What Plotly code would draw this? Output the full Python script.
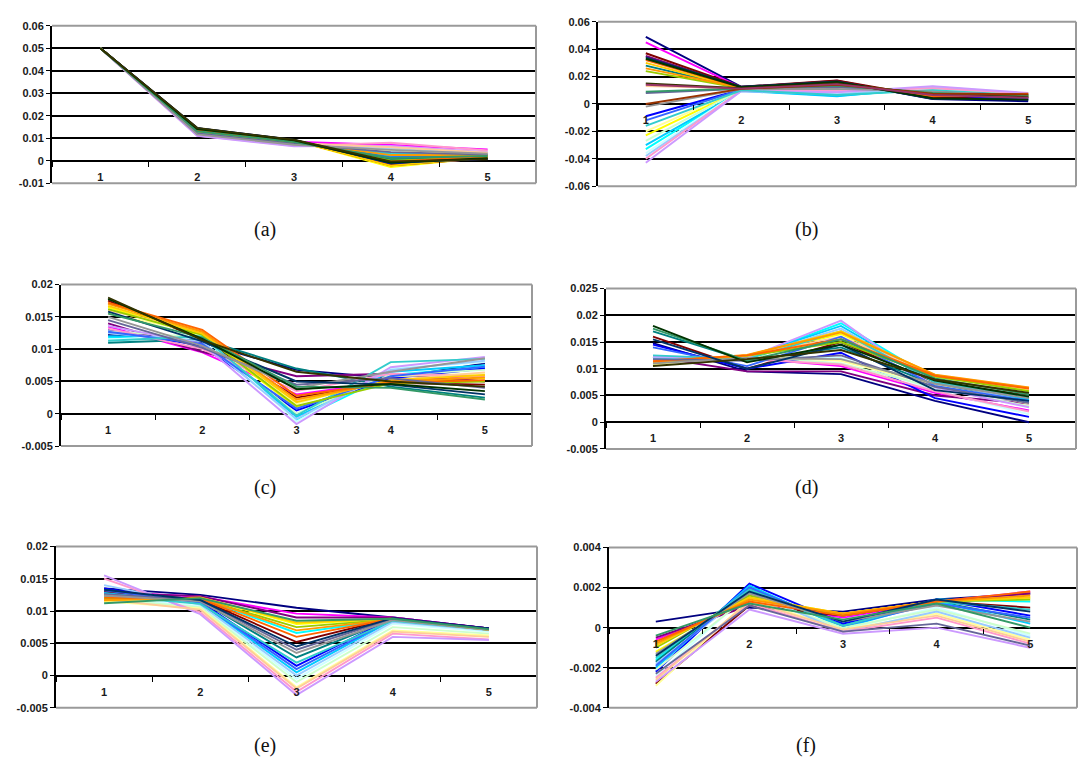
import plotly.graph_objects as go

W, H = 1078, 769

categories = ["1", "2", "3", "4", "5"]

excel_colors = [
    "#000080", "#FF00FF", "#FFFF00", "#00FFFF", "#800080", "#800000", "#008080", "#0000FF",
    "#00CCFF", "#CCFFFF", "#CCFFCC", "#FFFF99", "#99CCFF", "#FF99CC", "#CC99FF", "#FFCC99",
    "#3366FF", "#33CCCC", "#99CC00", "#FFCC00", "#FF9900", "#FF6600", "#666699", "#969696",
    "#003366", "#339966", "#003300", "#333300", "#993300", "#993366", "#333399", "#333333",
]

a_series = [
    [0.050, 0.0145, 0.0092, -0.0015, 0.0010],
    [0.050, 0.0132, 0.0084, 0.0070, 0.0050],
    [0.050, 0.0140, 0.0090, -0.0028, 0.0015],
    [0.050, 0.0124, 0.0076, 0.0035, 0.0025],
    [0.050, 0.0138, 0.0088, 0.0010, 0.0030],
    [0.050, 0.0142, 0.0091, -0.0020, 0.0012],
    [0.050, 0.0136, 0.0087, 0.0005, 0.0018],
    [0.050, 0.0143, 0.0090, -0.0012, 0.0008],
    [0.050, 0.0128, 0.0080, 0.0020, 0.0022],
    [0.050, 0.0120, 0.0072, 0.0042, 0.0028],
    [0.050, 0.0118, 0.0070, 0.0050, 0.0030],
    [0.050, 0.0122, 0.0074, 0.0046, 0.0032],
    [0.050, 0.0115, 0.0068, 0.0056, 0.0034],
    [0.050, 0.0112, 0.0066, 0.0080, 0.0045],
    [0.050, 0.0110, 0.0064, 0.0066, 0.0038],
    [0.050, 0.0126, 0.0078, 0.0060, 0.0036],
    [0.050, 0.0134, 0.0086, 0.0015, 0.0020],
    [0.050, 0.0127, 0.0079, 0.0030, 0.0026],
    [0.050, 0.0133, 0.0085, 0.0000, 0.0016],
    [0.050, 0.0139, 0.0089, -0.0022, 0.0014],
    [0.050, 0.0130, 0.0082, 0.0025, 0.0024],
    [0.050, 0.0137, 0.0088, -0.0005, 0.0019],
    [0.050, 0.0121, 0.0075, 0.0038, 0.0027],
    [0.050, 0.0117, 0.0071, 0.0048, 0.0031],
    [0.050, 0.0144, 0.0092, -0.0010, 0.0009],
    [0.050, 0.0131, 0.0083, 0.0012, 0.0021],
    [0.050, 0.0141, 0.0091, -0.0008, 0.0011],
    [0.050, 0.0146, 0.0093, -0.0003, 0.0006],
]

b_series = [
    [0.049, 0.0125, 0.0165, 0.0035, 0.0020],
    [0.045, 0.0120, 0.0160, 0.0045, 0.0040],
    [-0.023, 0.0105, 0.0100, 0.0095, 0.0070],
    [-0.033, 0.0100, 0.0060, 0.0110, 0.0060],
    [0.035, 0.0120, 0.0170, 0.0040, 0.0045],
    [0.037, 0.0125, 0.0172, 0.0050, 0.0050],
    [0.028, 0.0115, 0.0150, 0.0060, 0.0055],
    [-0.009, 0.0105, 0.0120, 0.0070, 0.0030],
    [-0.030, 0.0095, 0.0055, 0.0120, 0.0065],
    [-0.036, 0.0100, 0.0080, 0.0105, 0.0068],
    [-0.027, 0.0105, 0.0090, 0.0100, 0.0072],
    [-0.020, 0.0110, 0.0110, 0.0090, 0.0070],
    [-0.038, 0.0095, 0.0070, 0.0125, 0.0075],
    [-0.040, 0.0100, 0.0095, 0.0115, 0.0078],
    [-0.043, 0.0095, 0.0085, 0.0130, 0.0080],
    [0.013, 0.0115, 0.0130, 0.0080, 0.0065],
    [-0.012, 0.0105, 0.0125, 0.0075, 0.0040],
    [-0.016, 0.0100, 0.0065, 0.0100, 0.0062],
    [0.024, 0.0115, 0.0140, 0.0065, 0.0055],
    [0.030, 0.0115, 0.0145, 0.0060, 0.0058],
    [0.026, 0.0118, 0.0148, 0.0070, 0.0070],
    [0.032, 0.0120, 0.0155, 0.0055, 0.0075],
    [0.008, 0.0110, 0.0125, 0.0085, 0.0065],
    [-0.002, 0.0108, 0.0110, 0.0090, 0.0060],
    [0.034, 0.0125, 0.0165, 0.0038, 0.0035],
    [0.009, 0.0112, 0.0135, 0.0080, 0.0060],
    [0.033, 0.0122, 0.0160, 0.0042, 0.0030],
    [0.015, 0.0115, 0.0150, 0.0070, 0.0050],
    [0.000, 0.0110, 0.0140, 0.0075, 0.0070],
    [0.014, 0.0112, 0.0145, 0.0065, 0.0045],
]

c_series = [
    [0.0122, 0.0110, 0.0068, 0.0055, 0.0078],
    [0.0135, 0.0095, 0.0030, 0.0050, 0.0060],
    [0.0165, 0.0120, 0.0010, 0.0050, 0.0055],
    [0.0118, 0.0120, -0.0010, 0.0060, 0.0072],
    [0.0140, 0.0096, 0.0058, 0.0062, 0.0050],
    [0.0175, 0.0115, 0.0025, 0.0048, 0.0045],
    [0.0110, 0.0115, 0.0070, 0.0042, 0.0025],
    [0.0130, 0.0105, 0.0005, 0.0055, 0.0070],
    [0.0120, 0.0118, -0.0005, 0.0065, 0.0075],
    [0.0115, 0.0122, -0.0012, 0.0070, 0.0080],
    [0.0128, 0.0118, 0.0000, 0.0060, 0.0068],
    [0.0155, 0.0125, 0.0015, 0.0058, 0.0062],
    [0.0125, 0.0112, -0.0008, 0.0068, 0.0082],
    [0.0132, 0.0100, 0.0035, 0.0062, 0.0058],
    [0.0136, 0.0108, -0.0016, 0.0072, 0.0088],
    [0.0160, 0.0128, 0.0020, 0.0052, 0.0064],
    [0.0127, 0.0108, 0.0008, 0.0058, 0.0073],
    [0.0113, 0.0120, -0.0003, 0.0080, 0.0085],
    [0.0162, 0.0122, 0.0012, 0.0047, 0.0050],
    [0.0167, 0.0124, 0.0018, 0.0052, 0.0060],
    [0.0170, 0.0127, 0.0022, 0.0050, 0.0056],
    [0.0172, 0.0130, 0.0028, 0.0048, 0.0052],
    [0.0145, 0.0102, 0.0045, 0.0055, 0.0040],
    [0.0150, 0.0105, 0.0040, 0.0065, 0.0086],
    [0.0158, 0.0112, 0.0050, 0.0045, 0.0030],
    [0.0155, 0.0118, 0.0042, 0.0040, 0.0022],
    [0.0178, 0.0116, 0.0038, 0.0046, 0.0035],
    [0.0180, 0.0114, 0.0065, 0.0050, 0.0042],
]

d_series = [
    [0.0148, 0.0095, 0.0090, 0.0040, 0.0000],
    [0.0118, 0.0120, 0.0105, 0.0055, 0.0022],
    [0.0112, 0.0125, 0.0165, 0.0085, 0.0060],
    [0.0120, 0.0120, 0.0185, 0.0080, 0.0040],
    [0.0122, 0.0095, 0.0095, 0.0050, 0.0035],
    [0.0160, 0.0100, 0.0150, 0.0075, 0.0050],
    [0.0170, 0.0115, 0.0140, 0.0070, 0.0045],
    [0.0145, 0.0100, 0.0130, 0.0045, 0.0010],
    [0.0118, 0.0122, 0.0180, 0.0078, 0.0042],
    [0.0115, 0.0123, 0.0120, 0.0060, 0.0015],
    [0.0110, 0.0124, 0.0110, 0.0065, 0.0030],
    [0.0108, 0.0125, 0.0115, 0.0070, 0.0035],
    [0.0121, 0.0121, 0.0175, 0.0076, 0.0038],
    [0.0115, 0.0118, 0.0108, 0.0058, 0.0020],
    [0.0123, 0.0120, 0.0190, 0.0065, 0.0028],
    [0.0112, 0.0124, 0.0160, 0.0088, 0.0062],
    [0.0140, 0.0105, 0.0160, 0.0068, 0.0040],
    [0.0125, 0.0118, 0.0170, 0.0074, 0.0048],
    [0.0110, 0.0124, 0.0150, 0.0086, 0.0058],
    [0.0112, 0.0125, 0.0170, 0.0088, 0.0064],
    [0.0113, 0.0126, 0.0168, 0.0089, 0.0065],
    [0.0114, 0.0125, 0.0155, 0.0087, 0.0063],
    [0.0118, 0.0115, 0.0125, 0.0066, 0.0036],
    [0.0110, 0.0120, 0.0118, 0.0072, 0.0045],
    [0.0155, 0.0100, 0.0145, 0.0060, 0.0040],
    [0.0175, 0.0115, 0.0155, 0.0082, 0.0052],
    [0.0180, 0.0112, 0.0145, 0.0078, 0.0048],
    [0.0105, 0.0118, 0.0135, 0.0080, 0.0055],
]

e_series = [
    [0.0135, 0.0125, 0.0105, 0.0090, 0.0073],
    [0.0130, 0.0122, 0.0096, 0.0090, 0.0073],
    [0.0115, 0.0121, 0.0080, 0.0088, 0.0071],
    [0.0122, 0.0120, 0.0066, 0.0087, 0.0072],
    [0.0128, 0.0123, 0.0090, 0.0090, 0.0073],
    [0.0130, 0.0118, 0.0052, 0.0089, 0.0073],
    [0.0125, 0.0116, 0.0028, 0.0088, 0.0072],
    [0.0135, 0.0114, 0.0015, 0.0089, 0.0073],
    [0.0128, 0.0112, 0.0005, 0.0086, 0.0072],
    [0.0120, 0.0108, -0.0005, 0.0080, 0.0068],
    [0.0118, 0.0106, -0.0010, 0.0075, 0.0065],
    [0.0115, 0.0104, -0.0018, 0.0070, 0.0062],
    [0.0140, 0.0110, 0.0000, 0.0083, 0.0070],
    [0.0150, 0.0098, -0.0025, 0.0065, 0.0056],
    [0.0155, 0.0095, -0.0030, 0.0060, 0.0055],
    [0.0118, 0.0102, -0.0020, 0.0068, 0.0060],
    [0.0132, 0.0113, 0.0010, 0.0087, 0.0072],
    [0.0124, 0.0111, 0.0020, 0.0085, 0.0071],
    [0.0119, 0.0119, 0.0075, 0.0087, 0.0071],
    [0.0116, 0.0121, 0.0082, 0.0088, 0.0072],
    [0.0117, 0.0120, 0.0070, 0.0087, 0.0071],
    [0.0121, 0.0119, 0.0060, 0.0088, 0.0072],
    [0.0126, 0.0117, 0.0040, 0.0088, 0.0072],
    [0.0124, 0.0115, 0.0035, 0.0086, 0.0071],
    [0.0133, 0.0117, 0.0045, 0.0089, 0.0073],
    [0.0112, 0.0120, 0.0085, 0.0088, 0.0072],
]

f_series = [
    [0.0003, 0.0010, 0.0008, 0.0014, 0.0017],
    [-0.0006, 0.0012, 0.0005, 0.0013, 0.0018],
    [-0.0012, 0.0015, 0.0007, 0.0013, 0.0015],
    [-0.0016, 0.0019, 0.0002, 0.0014, 0.0013],
    [-0.0005, 0.0011, 0.0006, 0.0013, 0.0017],
    [-0.0028, 0.0011, 0.0006, 0.0013, 0.0010],
    [-0.0017, 0.0020, 0.0001, 0.0013, 0.0004],
    [-0.0022, 0.0022, 0.0002, 0.0014, 0.0006],
    [-0.0020, 0.0021, 0.0000, 0.0013, 0.0002],
    [-0.0024, 0.0017, -0.0001, 0.0010, -0.0004],
    [-0.0021, 0.0016, 0.0000, 0.0009, -0.0003],
    [-0.0029, 0.0014, -0.0001, 0.0007, -0.0006],
    [-0.0018, 0.0018, -0.0002, 0.0008, -0.0005],
    [-0.0025, 0.0012, -0.0002, 0.0005, -0.0008],
    [-0.0027, 0.0009, -0.0003, 0.0000, -0.0010],
    [-0.0026, 0.0013, -0.0001, 0.0006, -0.0007],
    [-0.0019, 0.0020, 0.0001, 0.0012, 0.0005],
    [-0.0015, 0.0019, 0.0001, 0.0013, 0.0009],
    [-0.0010, 0.0016, 0.0006, 0.0013, 0.0014],
    [-0.0009, 0.0015, 0.0007, 0.0013, 0.0015],
    [-0.0008, 0.0014, 0.0007, 0.0013, 0.0016],
    [-0.0007, 0.0013, 0.0006, 0.0013, 0.0018],
    [-0.0023, 0.0011, -0.0002, 0.0002, -0.0009],
    [-0.0013, 0.0017, 0.0003, 0.0011, 0.0003],
    [-0.0014, 0.0018, 0.0003, 0.0014, 0.0008],
    [-0.0004, 0.0012, 0.0004, 0.0012, 0.0000],
]

a_yticks = [-0.01, 0, 0.01, 0.02, 0.03, 0.04, 0.05, 0.06]
a_ylabels = ["-0.01", "0", "0.01", "0.02", "0.03", "0.04", "0.05", "0.06"]
b_yticks = [-0.06, -0.04, -0.02, 0, 0.02, 0.04, 0.06]
b_ylabels = ["-0.06", "-0.04", "-0.02", "0", "0.02", "0.04", "0.06"]
c_yticks = [-0.005, 0, 0.005, 0.01, 0.015, 0.02]
c_ylabels = ["-0.005", "0", "0.005", "0.01", "0.015", "0.02"]
d_yticks = [-0.005, 0, 0.005, 0.01, 0.015, 0.02, 0.025]
d_ylabels = ["-0.005", "0", "0.005", "0.01", "0.015", "0.02", "0.025"]
e_yticks = [-0.005, 0, 0.005, 0.01, 0.015, 0.02]
e_ylabels = ["-0.005", "0", "0.005", "0.01", "0.015", "0.02"]
f_yticks = [-0.004, -0.002, 0, 0.002, 0.004]
f_ylabels = ["-0.004", "-0.002", "0", "0.002", "0.004"]

captions = ["(a)", "(b)", "(c)", "(d)", "(e)", "(f)"]

# pixel boxes of plot areas: left, right, top, bottom
panels = [
    dict(series=a_series, box=(52, 536, 20, 180), yt=a_yticks, yl=a_ylabels, cap=(265, 227)),
    dict(series=b_series, box=(598, 1076, 16, 183), yt=b_yticks, yl=b_ylabels, cap=(806, 227)),
    dict(series=c_series, box=(61, 532, 283, 447), yt=c_yticks, yl=c_ylabels, cap=(265, 489)),
    dict(series=d_series, box=(606, 1076, 287, 450), yt=d_yticks, yl=d_ylabels, cap=(806, 489)),
    dict(series=e_series, box=(56, 537, 549, 713), yt=e_yticks, yl=e_ylabels, cap=(265, 751)),
    dict(series=f_series, box=(609, 1077, 550, 713), yt=f_yticks, yl=f_ylabels, cap=(806, 751)),
]

tickfont = dict(family="Liberation Sans, Arial, sans-serif", size=11, color="#1a1a1a", weight="bold")

fig = go.Figure()
layout = dict(
    width=W, height=H, margin=dict(l=0, r=0, t=0, b=0),
    paper_bgcolor="white", plot_bgcolor="white", showlegend=False,
)
shapes = []
annotations = []

for i, p in enumerate(panels, start=1):
    l, r, t, b = p["box"]
    ymin, ymax = p["yt"][0], p["yt"][-1]
    ydom = [1 - b / H, 1 - t / H]
    zero_frac = ydom[0] + (0 - ymin) / (ymax - ymin) * (ydom[1] - ydom[0])
    xname = "x" if i == 1 else f"x{i}"
    yname = "y" if i == 1 else f"y{i}"
    for k, vals in enumerate(p["series"]):
        fig.add_trace(go.Scatter(
            x=categories, y=vals, mode="lines",
            line=dict(color=excel_colors[k % len(excel_colors)], width=1.9),
            xaxis=xname, yaxis=yname, hoverinfo="skip", showlegend=False,
        ))
    layout["xaxis" if i == 1 else f"xaxis{i}"] = dict(
        domain=[l / W, r / W], anchor="free", position=zero_frac,
        type="category", categoryorder="array", categoryarray=categories,
        range=[-0.5, 4.5], tickson="boundaries", ticks="outside", ticklen=5,
        tickcolor="black", tickwidth=1.4, showline=False, showgrid=False, zeroline=False,
        tickfont=tickfont, ticklabelstandoff=8, fixedrange=True,
    )
    layout["yaxis" if i == 1 else f"yaxis{i}"] = dict(
        domain=ydom, anchor=xname, range=[ymin, ymax],
        tickvals=p["yt"], ticktext=p["yl"], showgrid=True, gridcolor="black", gridwidth=2,
        showline=True, linecolor="black", linewidth=2, ticks="outside", ticklen=4,
        tickcolor="black", tickwidth=1.4, zeroline=False, tickfont=tickfont, fixedrange=True,
    )
    xd, yd = f"{xname} domain", f"{yname} domain"
    for (x0, y0, x1, y1) in [(0, 1, 1, 1), (1, 0, 1, 1), (0, 0, 1, 0)]:
        shapes.append(dict(type="line", xref=xd, yref=yd, x0=x0, y0=y0, x1=x1, y1=y1,
                           line=dict(color="#9a9a9a", width=2), layer="above"))
    cx, cy = p["cap"]
    annotations.append(dict(
        text=captions[i - 1], xref="paper", yref="paper", x=cx / W, y=1 - cy / H,
        showarrow=False, xanchor="center", yanchor="middle",
        font=dict(family="Liberation Serif, Times New Roman, serif", size=20, color="#111111"),
    ))

layout["shapes"] = shapes
layout["annotations"] = annotations
fig.update_layout(**layout)
fig.write_html("out.html")
